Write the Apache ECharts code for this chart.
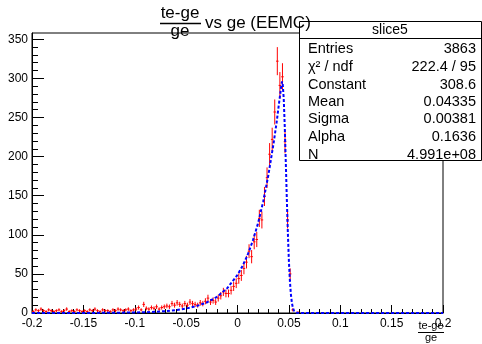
<!DOCTYPE html>
<html>
<head>
<meta charset="UTF-8">
<title>slice5</title>
<script src="https://cdn.jsdelivr.net/npm/echarts@6.0.0/dist/echarts.min.js"></script>
<style>
  html, body { margin: 0; padding: 0; background: #fff; }
  #chart { width: 482px; height: 344px; }
</style>
</head>
<body>
<div id="chart"></div>
<script>
// histogram: 160 bins from -0.2 to 0.2
const histMin = -0.2;
const binWidth = 0.0025;
const counts = [
  2, 4, 3, 5, 3, 2, 4, 3, 2, 3, 4, 2, 3, 5, 2, 3, 2, 4, 3, 2,
  3, 2, 4, 3, 5, 3, 2, 4, 3, 3, 2, 4, 3, 5, 4, 3, 4, 5, 3, 4,
  5, 7, 4, 11, 6, 5, 7, 6, 8, 5, 7, 8, 9, 8, 12, 10, 13, 11, 9, 12,
  10, 14, 12, 11, 10, 13, 12, 15, 19, 14, 16, 14, 19, 22, 27, 25, 25, 29, 34, 38,
  44, 48, 57, 65, 79, 72, 91, 94, 121, 119, 149, 173, 203, 222, 257, 322, 291, 302, 219, 119,
  50, 4, 0, 1, 0, 0, 0, 0, 0, 0, 0, 0, 0, 0, 0, 0, 0, 0, 0, 0,
  0, 0, 0, 0, 0, 0, 0, 0, 0, 0, 0, 0, 0, 0, 0, 0, 0, 0, 0, 0,
  0, 0, 0, 0, 0, 0, 0, 0, 0, 0, 0, 0, 0, 0, 0, 0, 0, 0, 0, 0
];

// fitted curve
const fitX = [-0.2, -0.175, -0.15, -0.125, -0.1, -0.09, -0.08, -0.07, -0.06, -0.05,
  -0.04, -0.03, -0.02, -0.01, 0, 0.005, 0.01, 0.015, 0.02, 0.025,
  0.03, 0.035, 0.038, 0.04, 0.042, 0.0427, 0.0434, 0.044, 0.045, 0.046,
  0.047, 0.048, 0.049, 0.05, 0.051, 0.052, 0.053, 0.054, 0.055, 0.056,
  0.058, 0.06, 0.08, 0.1, 0.15, 0.2];
const fitY = [0, 0, 0.1, 0.2, 0.7, 1.0, 1.6, 2.4, 3.7, 5.7,
  8.8, 13.4, 20.7, 31.7, 48.7, 60.3, 74.8, 92.7, 114.8, 142.3,
  176, 216, 243, 264, 284, 292, 296, 293, 274, 238,
  193, 146, 103, 67, 41, 23.5, 12.5, 6.2, 2.9, 1.25,
  0.19, 0, 0, 0, 0, 0];

const xTicks = [-0.2, -0.15, -0.1, -0.05, 0, 0.05, 0.1, 0.15, 0.2];
const yTicks = [0, 50, 100, 150, 200, 250, 300, 350];

const statsTitle = 'slice5';
const statsNames = ['Entries', 'χ² / ndf', 'Constant', 'Mean', 'Sigma', 'Alpha', 'N'];
const statsValues = ['3863', '222.4 / 95', '308.6', '0.04335', '0.00381', '0.1636', '4.991e+08'];

const yMax = 358;

// build points
const histPts = [];
counts.forEach((c, i) => {
  if (c > 0) histPts.push([histMin + (i + 0.5) * binWidth, c, Math.sqrt(c)]);
});
const fitPts = fitX.map((x, i) => [x, fitY[i]]);

const yMinor = [];
for (let v = 0; v <= 350; v += 10) yMinor.push(v);

const font = '"Liberation Sans", Arial, sans-serif';
const chart = echarts.init(document.getElementById('chart'), null, { renderer: 'canvas' });

const statsGraphics = [];
statsGraphics.push({
  type: 'rect', z: 100,
  shape: { x: 299.5, y: 21.5, width: 182, height: 139 },
  style: { fill: '#fff', stroke: '#000', lineWidth: 1 }
});
statsGraphics.push({
  type: 'line', z: 101,
  shape: { x1: 299.5, y1: 38.5, x2: 481.5, y2: 38.5 },
  style: { stroke: '#000', lineWidth: 1 }
});
statsGraphics.push({
  type: 'text', z: 101, x: 390, y: 30,
  style: { text: statsTitle, font: '14px ' + font, fill: '#000', align: 'center', verticalAlign: 'middle' }
});
const rowY = [49, 67, 85, 102, 119, 137, 155];
statsNames.forEach((n, i) => {
  statsGraphics.push({
    type: 'text', z: 101, x: 308, y: rowY[i],
    style: { text: n, font: '14.5px ' + font, fill: '#000', align: 'left', verticalAlign: 'middle' }
  });
  statsGraphics.push({
    type: 'text', z: 101, x: 476, y: rowY[i],
    style: { text: statsValues[i], font: '14.5px ' + font, fill: '#000', align: 'right', verticalAlign: 'middle' }
  });
});

const titleGraphics = [
  { type: 'text', z: 110, x: 180, y: 13, style: { text: 'te-ge', font: '17px ' + font, fill: '#000', align: 'center', verticalAlign: 'middle' } },
  { type: 'line', z: 110, shape: { x1: 160, y1: 23.5, x2: 201, y2: 23.5 }, style: { stroke: '#000', lineWidth: 1.5 } },
  { type: 'text', z: 110, x: 180, y: 31, style: { text: 'ge', font: '17px ' + font, fill: '#000', align: 'center', verticalAlign: 'middle' } },
  { type: 'text', z: 110, x: 205, y: 23, style: { text: 'vs ge (EEMC)', font: '17px ' + font, fill: '#000', align: 'left', verticalAlign: 'middle' } },
  // x axis title
  { type: 'text', z: 110, x: 431, y: 326, style: { text: 'te-ge', font: '11px ' + font, fill: '#000', align: 'center', verticalAlign: 'middle' } },
  { type: 'line', z: 110, shape: { x1: 418, y1: 332.5, x2: 444, y2: 332.5 }, style: { stroke: '#000', lineWidth: 1 } },
  { type: 'text', z: 110, x: 431, y: 338, style: { text: 'ge', font: '11px ' + font, fill: '#000', align: 'center', verticalAlign: 'middle' } }
];

const option = {
  animation: false,
  backgroundColor: '#fff',
  grid: { left: 32, right: 39, top: 33, bottom: 31, show: true, borderColor: '#000', borderWidth: 1, backgroundColor: 'transparent' },
  xAxis: {
    type: 'value', min: -0.2, max: 0.2, interval: 0.05,
    axisLine: { show: true, onZero: false, lineStyle: { color: '#000', width: 1 } },
    axisTick: { show: true, inside: true, length: 8, lineStyle: { color: '#000' } },
    minorTick: { show: true, splitNumber: 5, length: 4, lineStyle: { color: '#000' } },
    axisLabel: { color: '#000', fontSize: 12, fontFamily: font, margin: 5,
      customValues: xTicks, formatter: v => String(+v.toFixed(3)) },
    splitLine: { show: false }
  },
  yAxis: [{
    type: 'value', min: 0, max: yMax,
    axisLine: { show: true, onZero: false, lineStyle: { color: '#000', width: 1 } },
    axisTick: { show: true, inside: true, length: 12, customValues: yTicks, lineStyle: { color: '#000' } },
    axisLabel: { color: '#000', fontSize: 12, fontFamily: font, margin: 4, customValues: yTicks },
    splitLine: { show: false }
  }, {
    type: 'value', min: 0, max: yMax, position: 'left',
    axisLine: { show: false, onZero: false },
    axisTick: { show: true, inside: true, length: 6, customValues: yMinor, lineStyle: { color: '#000' } },
    axisLabel: { show: false },
    splitLine: { show: false }
  }],
  graphic: statsGraphics.concat(titleGraphics),
  series: [{
    type: 'custom',
    data: histPts,
    clip: true,
    z: 3,
    renderItem: (params, api) => {
      const x = api.value(0), y = api.value(1), e = api.value(2);
      const c = api.coord([x, y]);
      const lo = api.coord([x, y - e]);
      const hi = api.coord([x, Math.min(y + e, yMax)]);
      const left = api.coord([x - binWidth / 2, y]);
      const right = api.coord([x + binWidth / 2, y]);
      return {
        type: 'group',
        children: [
          { type: 'line', shape: { x1: c[0], y1: lo[1], x2: c[0], y2: hi[1] }, style: { stroke: '#ff0000', lineWidth: 1 } },
          { type: 'line', shape: { x1: left[0], y1: c[1], x2: right[0], y2: c[1] }, style: { stroke: '#ff0000', lineWidth: 1 } }
        ]
      };
    }
  }, {
    type: 'line',
    data: fitPts,
    showSymbol: false,
    symbol: 'none',
    smooth: false,
    z: 4,
    lineStyle: { color: '#0000ff', width: 2, type: [3, 2] }
  }]
};
chart.setOption(option);
</script>
</body>
</html>
